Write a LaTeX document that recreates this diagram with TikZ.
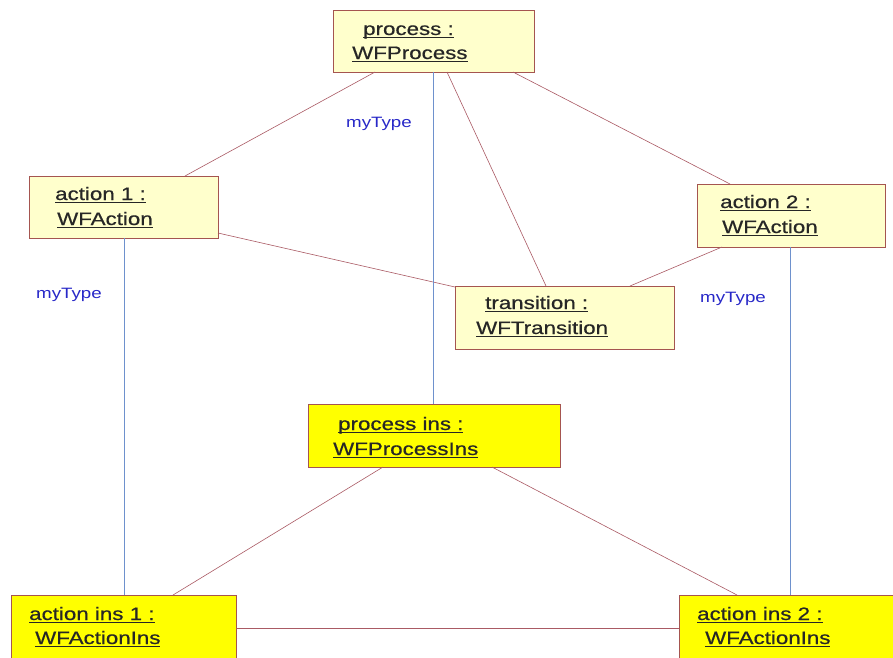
\documentclass[tikz,border=0pt]{standalone}
\usepackage{fontspec}
\setmainfont[FakeStretch=1.25]{Liberation Sans}
\newfontfamily\boxfont[FakeStretch=1.24,FakeBold=0.6]{Liberation Sans}
\usetikzlibrary{calc}
\definecolor{lightbox}{RGB}{255,255,204}
\definecolor{insbox}{RGB}{255,255,0}
\definecolor{boxborder}{RGB}{165,85,80}
\definecolor{redline}{RGB}{170,90,100}
\definecolor{blueline}{RGB}{110,145,205}
\definecolor{labelblue}{RGB}{40,40,200}
\newcommand\ulx[1]{\setbox0\hbox{#1}\rlap{\raisebox{-3.4pt}{\rule{\wd0}{1.8pt}}}\box0}
\tikzset{
  box/.style={draw=boxborder, line width=0.9pt, fill=lightbox, anchor=north west, inner sep=0pt, outer sep=0pt},
  insbox/.style={box, fill=insbox},
  btext/.style={anchor=base west, inner sep=0pt, text=black!85, font=\boxfont\fontsize{18}{22}\selectfont},
  mylabel/.style={anchor=base west, inner sep=0pt, text=labelblue, font=\fontsize{15}{18}\selectfont},
  rline/.style={draw=redline, line width=0.6pt},
  bline/.style={draw=blueline, line width=0.8pt}
}
\begin{document}
\begin{tikzpicture}[x=1pt,y=-1pt]
\clip (0,0) rectangle (893,657);
\fill[white] (0,0) rectangle (893,657);
% boxes
\node[box, minimum width=201, minimum height=62] (p) at (333,10) {};
\node[box, minimum width=189, minimum height=62] (a1) at (29,176) {};
\node[box, minimum width=188, minimum height=63] (a2) at (697,184) {};
\node[box, minimum width=219, minimum height=63] (t) at (455,286) {};
\node[insbox, minimum width=252, minimum height=63] (pi) at (308,404) {};
\node[insbox, minimum width=225, minimum height=80] (ai1) at (11,595) {};
\node[insbox, minimum width=230, minimum height=80] (ai2) at (679,595) {};
% texts
\node[btext] (p1) at (363,35) {\ulx{process :}};
\node[btext] (p2) at (352,59) {\ulx{WFProcess}};
\node[btext] (a11) at (55,200) {\ulx{action 1 :}};
\node[btext] (a12) at (57,225) {\ulx{WFAction}};
\node[btext] (a21) at (720,208) {\ulx{action 2 :}};
\node[btext] (a22) at (722,233) {\ulx{WFAction}};
\node[btext] (t1) at (485,309) {\ulx{transition :}};
\node[btext] (t2) at (476,334) {\ulx{WFTransition}};
\node[btext] (pi1) at (338,430) {\ulx{process ins :}};
\node[btext] (pi2) at (333,455) {\ulx{WFProcessIns}};
\node[btext] (ai11) at (29,620) {\ulx{action ins 1 :}};
\node[btext] (ai12) at (35,644) {\ulx{WFActionIns}};
\node[btext] (ai21) at (697,620) {\ulx{action ins 2 :}};
\node[btext] (ai22) at (705,644) {\ulx{WFActionIns}};
% labels
\node[mylabel] (l1) at (346,127) {myType};
\node[mylabel] (l2) at (36,298) {myType};
\node[mylabel] (l3) at (700,302) {myType};
% red connectors
\draw[rline] ($(p.south west)+(42,0)$) -- ($(a1.north west)+(156,0)$);
\draw[rline] ($(p.south west)+(114,0)$) -- ($(t.north west)+(91,0)$);
\draw[rline] ($(p.south west)+(180,0)$) -- ($(a2.north west)+(33,0)$);
\draw[rline] ($(a1.south east)+(0,-5)$) -- ($(t.north west)+(0,1)$);
\draw[rline] ($(a2.south west)+(25,0)$) -- ($(t.north west)+(175,0)$);
\draw[rline] ($(pi.south west)+(75,0)$) -- ($(ai1.north west)+(162,0)$);
\draw[rline] ($(pi.south west)+(184,0)$) -- ($(ai2.north west)+(58,0)$);
\draw[rline] ($(ai1.north east)+(0,33)$) -- ($(ai2.north west)+(0,33)$);
% blue connectors
\draw[bline] ($(p.south west)+(100,0)$) -- ($(pi.north west)+(125,0)$);
\draw[bline] ($(a1.south west)+(95,0)$) -- ($(ai1.north west)+(113,0)$);
\draw[bline] ($(a2.south west)+(93,0)$) -- ($(ai2.north west)+(111,0)$);
\end{tikzpicture}
\end{document}
